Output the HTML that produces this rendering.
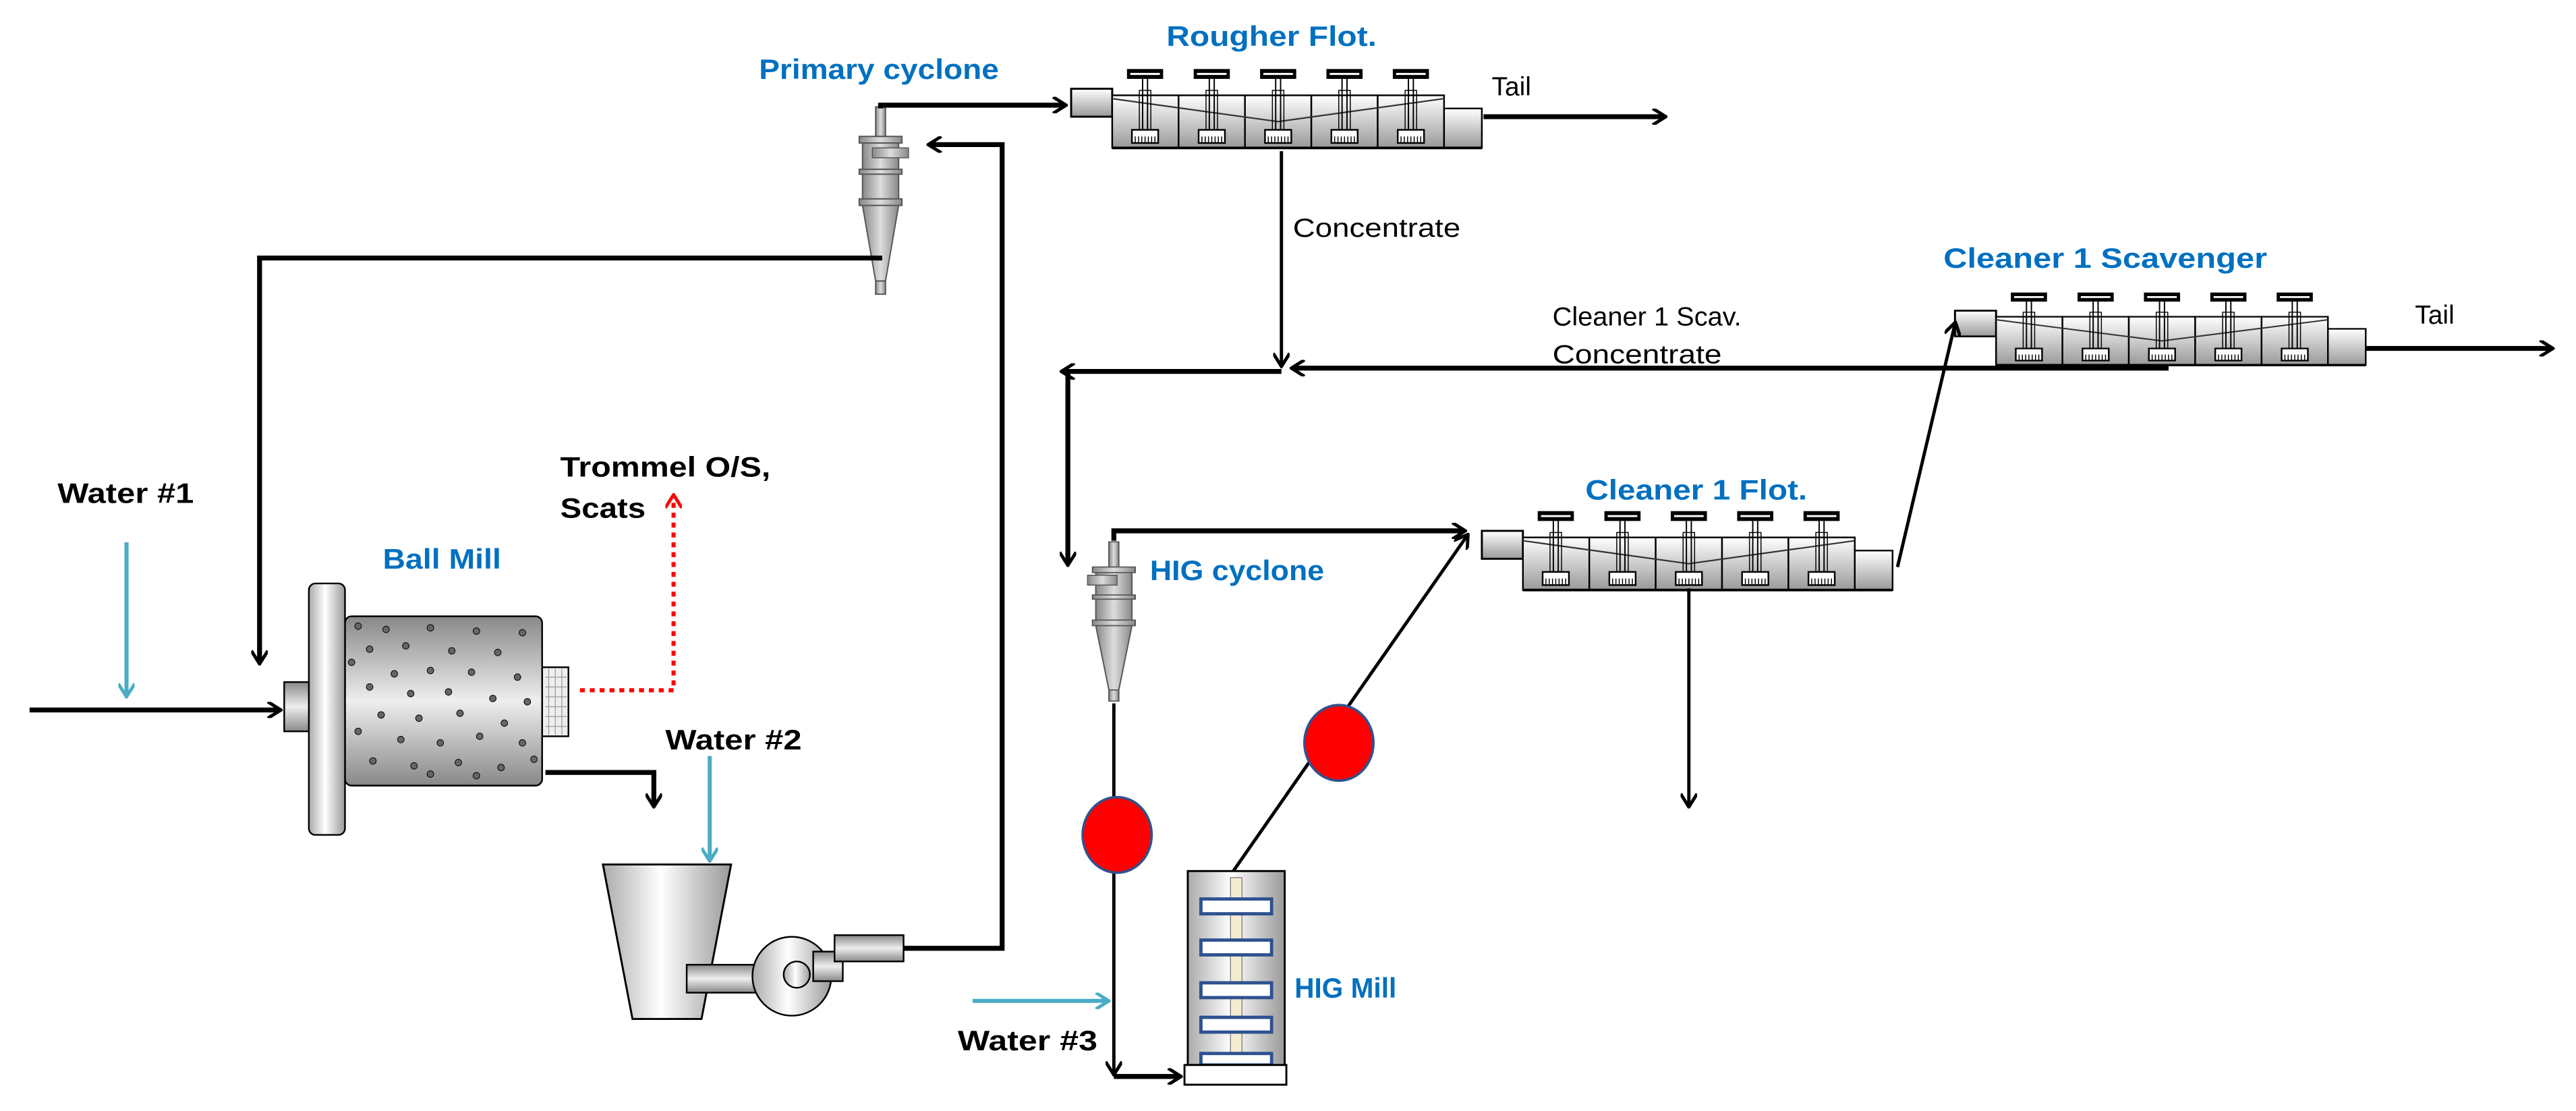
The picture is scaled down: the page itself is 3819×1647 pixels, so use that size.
<!DOCTYPE html>
<html><head><meta charset="utf-8"><style>
html,body{margin:0;padding:0;background:#fff;}
svg{display:block;}
.bl{font-family:"Liberation Sans",sans-serif;font-weight:bold;fill:#0070c0;font-size:17px;}
.bk{font-family:"Liberation Sans",sans-serif;font-weight:bold;fill:#000;font-size:17px;}
.nm{font-family:"Liberation Sans",sans-serif;fill:#000;font-size:16px;}
</style></head><body>
<svg width="3819" height="1647" viewBox="0 0 1568 676" preserveAspectRatio="none" xmlns="http://www.w3.org/2000/svg">
<defs>
<linearGradient id="g1" x1="0" y1="0" x2="0" y2="1"><stop offset="0" stop-color="#fff"/><stop offset="1" stop-color="#999"/></linearGradient>
<linearGradient id="g2" x1="0" y1="0" x2="1" y2="0"><stop offset="0" stop-color="#888"/><stop offset="0.5" stop-color="#ddd"/><stop offset="1" stop-color="#888"/></linearGradient>
<linearGradient id="g3" x1="0" y1="0" x2="1" y2="0"><stop offset="0" stop-color="#aaa"/><stop offset="0.45" stop-color="#fff"/><stop offset="1" stop-color="#999"/></linearGradient>
<linearGradient id="g4" x1="0" y1="0" x2="0" y2="1"><stop offset="0" stop-color="#888"/><stop offset="0.5" stop-color="#eee"/><stop offset="1" stop-color="#888"/></linearGradient>
<marker id="ak" markerWidth="10" markerHeight="10" refX="8" refY="5" orient="auto" markerUnits="userSpaceOnUse"><path d="M1,0 L9,5 L1,10" fill="none" stroke="#000" stroke-width="2"/></marker>
<marker id="ab" markerWidth="10" markerHeight="10" refX="8" refY="5" orient="auto" markerUnits="userSpaceOnUse"><path d="M1,0 L9,5 L1,10" fill="none" stroke="#4bacc6" stroke-width="2"/></marker>
<marker id="ar" markerWidth="10" markerHeight="10" refX="8" refY="5" orient="auto" markerUnits="userSpaceOnUse"><path d="M1,0 L9,5 L1,10" fill="none" stroke="#f00" stroke-width="2"/></marker>
<g id="imp">
<rect x="-11" y="0" width="22" height="6" fill="#000"/><line x1="-9" y1="3" x2="9" y2="3" stroke="#fff" stroke-width="1.2"/>
<line x1="-1.5" y1="6" x2="-1.5" y2="38" stroke="#000" stroke-width="0.8"/><line x1="1.5" y1="6" x2="1.5" y2="38" stroke="#000" stroke-width="0.8"/>
<rect x="-3.5" y="13" width="7" height="25" fill="none" stroke="#000" stroke-width="0.6"/>
<rect x="-8" y="37" width="16" height="8" fill="#fff" stroke="#000" stroke-width="1"/>
<path d="M-6,45 v-4 M-4,45 v-4 M-2,45 v-4 M0,45 v-4 M2,45 v-4 M4,45 v-4 M6,45 v-4" stroke="#000" stroke-width="0.6"/>
</g>
<g id="tank">
<rect x="0" y="12" width="25" height="17" fill="url(#g1)" stroke="#000" stroke-width="1.2"/>
<rect x="25" y="16" width="40.4" height="32" fill="url(#g1)" stroke="#000" stroke-width="1"/>
<rect x="65.4" y="16" width="40.4" height="32" fill="url(#g1)" stroke="#000" stroke-width="1"/>
<rect x="105.8" y="16" width="40.4" height="32" fill="url(#g1)" stroke="#000" stroke-width="1"/>
<rect x="146.2" y="16" width="40.4" height="32" fill="url(#g1)" stroke="#000" stroke-width="1"/>
<rect x="186.6" y="16" width="40.4" height="32" fill="url(#g1)" stroke="#000" stroke-width="1"/>
<rect x="227" y="24" width="23" height="24" fill="url(#g1)" stroke="#000" stroke-width="1"/>
<line x1="25" y1="48" x2="250" y2="48" stroke="#000" stroke-width="1.6"/>
<polyline points="25,18 126,32 227,18" fill="none" stroke="#333" stroke-width="0.9"/>
<use href="#imp" x="45" y="0"/><use href="#imp" x="85.6" y="0"/><use href="#imp" x="126" y="0"/><use href="#imp" x="166.4" y="0"/><use href="#imp" x="206.8" y="0"/>
</g>
<g id="cyc">
<rect x="-3" y="-18" width="6" height="18" fill="url(#g2)" stroke="#555" stroke-width="0.8"/>
<rect x="-13" y="0" width="26" height="4" fill="url(#g2)" stroke="#555" stroke-width="0.8"/>
<rect x="-11" y="4" width="22" height="36" fill="url(#g2)" stroke="#555" stroke-width="0.8"/>
<rect x="-13" y="20" width="26" height="3" fill="url(#g2)" stroke="#555" stroke-width="0.8"/>
<rect x="-13" y="38" width="26" height="4" fill="url(#g2)" stroke="#555" stroke-width="0.8"/>
<path d="M-11,42 L11,42 L3,88 L-3,88 Z" fill="url(#g2)" stroke="#555" stroke-width="0.8"/>
<rect x="-3" y="88" width="6" height="8" fill="url(#g2)" stroke="#555" stroke-width="0.8"/>
</g>
</defs>

<!-- Labels -->
<text class="bl" x="462" y="48" textLength="146" lengthAdjust="spacingAndGlyphs">Primary cyclone</text>
<text class="bl" x="710" y="28" font-size="19" textLength="128" lengthAdjust="spacingAndGlyphs">Rougher Flot.</text>
<text class="nm" x="908" y="58" textLength="24" lengthAdjust="spacingAndGlyphs">Tail</text>
<text class="nm" x="787" y="144" textLength="102" lengthAdjust="spacingAndGlyphs">Concentrate</text>
<text class="nm" x="945" y="198" textLength="115" lengthAdjust="spacingAndGlyphs">Cleaner 1 Scav.</text>
<text class="nm" x="945" y="221" textLength="103" lengthAdjust="spacingAndGlyphs">Concentrate</text>
<text class="bl" x="1183" y="163" font-size="19" textLength="197" lengthAdjust="spacingAndGlyphs">Cleaner 1 Scavenger</text>
<text class="nm" x="1470" y="197" textLength="24" lengthAdjust="spacingAndGlyphs">Tail</text>
<text class="bl" x="965" y="304" font-size="18" textLength="135" lengthAdjust="spacingAndGlyphs">Cleaner 1 Flot.</text>
<text class="bk" x="35" y="306" textLength="83" lengthAdjust="spacingAndGlyphs">Water #1</text>
<text class="bk" x="341" y="290" textLength="128" lengthAdjust="spacingAndGlyphs">Trommel O/S,</text>
<text class="bk" x="341" y="315" textLength="52" lengthAdjust="spacingAndGlyphs">Scats</text>
<text class="bl" x="233" y="346" textLength="72" lengthAdjust="spacingAndGlyphs">Ball Mill</text>
<text class="bk" x="405" y="456" textLength="83" lengthAdjust="spacingAndGlyphs">Water #2</text>
<text class="bl" x="700" y="353" textLength="106" lengthAdjust="spacingAndGlyphs">HIG cyclone</text>
<text class="bl" x="788" y="607" textLength="62" lengthAdjust="spacingAndGlyphs">HIG Mill</text>
<text class="bk" x="583" y="639" textLength="85" lengthAdjust="spacingAndGlyphs">Water #3</text>

<!-- Tanks -->
<use href="#tank" transform="translate(652,42)"/>
<use href="#tank" transform="translate(902,311)"/>
<use href="#tank" transform="translate(1190,178) scale(1,0.92)"/>

<!-- Cyclones -->
<use href="#cyc" transform="translate(536,83)"/>
<rect x="531" y="90" width="22" height="6" fill="url(#g2)" stroke="#555" stroke-width="0.6"/>
<use href="#cyc" transform="translate(678,345) scale(1,0.85)"/>
<rect x="662" y="350" width="18" height="6" fill="url(#g2)" stroke="#555" stroke-width="0.6"/>

<!-- Lines -->
<g fill="none" stroke="#000" stroke-width="3">
<polyline points="536,66 536,64 648,64" marker-end="url(#ak)"/>
<polyline points="550,577 610,577 610,88 566,88" marker-end="url(#ak)"/>
<polyline points="537,157 158,157 158,403" marker-end="url(#ak)"/>
<polyline points="18,432 170,432" marker-end="url(#ak)"/>
<polyline points="332,470 398,470 398,490" marker-end="url(#ak)"/>
<polyline points="903,71 1013,71" marker-end="url(#ak)"/>
<polyline points="1440,212 1553,212" marker-end="url(#ak)"/>
<polyline points="1320,224 787,224" marker-end="url(#ak)"/>
<polyline points="780,226 647,226" marker-end="url(#ak)"/>
<polyline points="650,226 650,343" marker-end="url(#ak)"/>
<polyline points="678,329 678,323 891,323" marker-end="url(#ak)"/>
<polyline points="678,655 718,655" marker-end="url(#ak)"/>
</g>
<g fill="none" stroke="#000" stroke-width="2">
<polyline points="780,92 780,222" marker-end="url(#ak)"/>
<polyline points="678,428 678,653" marker-end="url(#ak)"/>
<polyline points="750,531 893,326" marker-end="url(#ak)"/>
<polyline points="1155,345 1190,197" marker-end="url(#ak)"/>
<polyline points="1028,358 1028,490" marker-end="url(#ak)"/>
</g>
<g fill="none" stroke="#4bacc6" stroke-width="2.5">
<polyline points="77,330 77,423" marker-end="url(#ab)"/>
<polyline points="432,460 432,523" marker-end="url(#ab)"/>
<polyline points="592,609 674,609" marker-end="url(#ab)"/>
</g>
<polyline points="353,420 410,420 410,302" fill="none" stroke="#f00" stroke-width="2.5" stroke-dasharray="3,3" marker-end="url(#ar)"/>

<!-- Red circles -->
<ellipse cx="680" cy="508" rx="21" ry="23" fill="#f00" stroke="#2f528f" stroke-width="1.5"/>
<ellipse cx="815" cy="452" rx="21" ry="23" fill="#f00" stroke="#2f528f" stroke-width="1.5"/>

<!-- Ball mill -->
<rect x="173" y="415" width="18" height="30" fill="url(#g4)" stroke="#000" stroke-width="1"/>
<rect x="330" y="406" width="16" height="42" fill="#eee" stroke="#000" stroke-width="1"/>
<g stroke="#999" stroke-width="0.5">
<path d="M332,412 h13 M332,418 h13 M332,424 h13 M332,430 h13 M332,436 h13 M332,442 h13 M334,407 v40 M338,407 v40 M342,407 v40"/>
</g>
<rect x="210" y="375" width="120" height="103" rx="4" fill="url(#g4)" stroke="#000" stroke-width="1"/>
<rect x="188" y="355" width="22" height="153" rx="4" fill="url(#g3)" stroke="#000" stroke-width="1"/>
<g fill="#666" stroke="#000" stroke-width="0.4">
<circle cx="218" cy="381" r="2"/><circle cx="235" cy="383" r="2"/><circle cx="262" cy="382" r="2"/><circle cx="290" cy="384" r="2"/><circle cx="318" cy="385" r="2"/>
<circle cx="225" cy="395" r="2"/><circle cx="247" cy="393" r="2"/><circle cx="275" cy="396" r="2"/><circle cx="303" cy="397" r="2"/><circle cx="214" cy="403" r="2"/>
<circle cx="240" cy="410" r="2"/><circle cx="262" cy="408" r="2"/><circle cx="287" cy="409" r="2"/><circle cx="315" cy="412" r="2"/><circle cx="225" cy="418" r="2"/>
<circle cx="250" cy="422" r="2"/><circle cx="273" cy="421" r="2"/><circle cx="300" cy="425" r="2"/><circle cx="321" cy="427" r="2"/><circle cx="232" cy="435" r="2"/>
<circle cx="255" cy="437" r="2"/><circle cx="280" cy="434" r="2"/><circle cx="307" cy="440" r="2"/><circle cx="218" cy="445" r="2"/><circle cx="244" cy="450" r="2"/>
<circle cx="268" cy="452" r="2"/><circle cx="292" cy="448" r="2"/><circle cx="318" cy="452" r="2"/><circle cx="227" cy="463" r="2"/><circle cx="252" cy="466" r="2"/>
<circle cx="279" cy="464" r="2"/><circle cx="305" cy="467" r="2"/><circle cx="325" cy="462" r="2"/><circle cx="262" cy="471" r="2"/><circle cx="290" cy="472" r="2"/>
</g>

<!-- Hopper & pump -->
<path d="M367,526 L445,526 L427,620 L385,620 Z" fill="url(#g3)" stroke="#000" stroke-width="1.2"/>
<rect x="418" y="587" width="62" height="17" fill="url(#g4)" stroke="#000" stroke-width="1"/>
<circle cx="482" cy="594" r="24" fill="url(#g3)" stroke="#000" stroke-width="1"/>
<circle cx="485" cy="593" r="8" fill="url(#g3)" stroke="#000" stroke-width="1"/>
<rect x="495" y="579" width="18" height="18" fill="url(#g4)" stroke="#000" stroke-width="1"/>
<rect x="508" y="569" width="42" height="16" fill="url(#g4)" stroke="#000" stroke-width="1"/>

<!-- HIG mill -->
<rect x="723" y="530" width="59" height="118" fill="url(#g3)" stroke="#000" stroke-width="1.2"/>
<rect x="749" y="534" width="7" height="114" fill="#f5ebd0" stroke="#888" stroke-width="0.6"/>
<g fill="#fff" stroke="#2f528f" stroke-width="2">
<rect x="731" y="547" width="43" height="9"/>
<rect x="731" y="572" width="43" height="9"/>
<rect x="731" y="598" width="43" height="9"/>
<rect x="731" y="619" width="43" height="9"/>
<rect x="731" y="641" width="43" height="7"/>
</g>
<rect x="721" y="648" width="62" height="12" fill="#fff" stroke="#000" stroke-width="1.2"/>
</svg>
</body></html>
